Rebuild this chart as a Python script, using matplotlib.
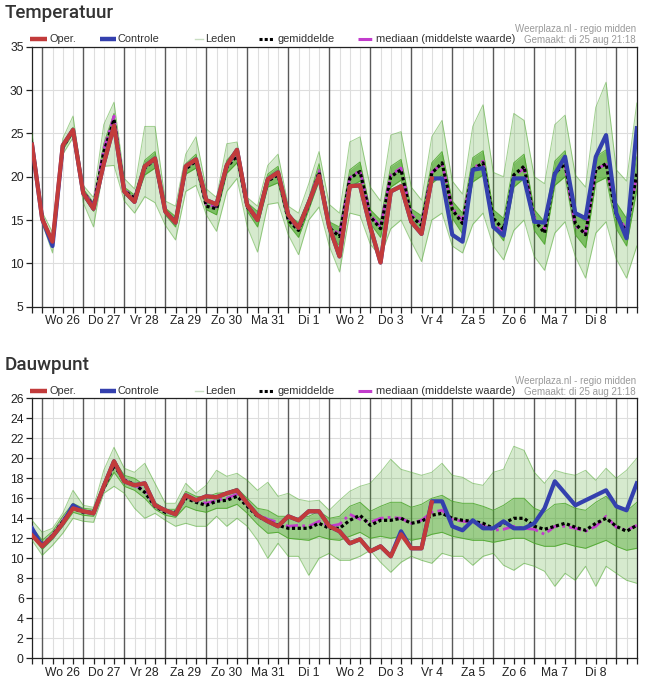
import numpy as np
import pandas as pd
import matplotlib
matplotlib.use("Agg")
import matplotlib.pyplot as plt
import matplotlib.dates as mdates
from matplotlib.lines import Line2D

plt.rcParams.update({"font.family": ["Liberation Sans", "DejaVu Sans"],
                     "font.size": 8.5})

# 6-hourly steps, tue 25 aug 18:00 .. wed 9 sep 12:00
times = pd.date_range("2020-08-25 18:00", periods=60, freq="6h")
day_labels = ["Wo 26", "Do 27", "Vr 28", "Za 29", "Zo 30", "Ma 31", "Di 1",
              "Wo 2", "Do 3", "Vr 4", "Za 5", "Zo 6", "Ma 7", "Di 8"]
NAN = np.nan

# ---- Temperatuur -------------------------------------------------------
t_oper = [23.7, 15.1, 12.5, 23.6, 25.4, 18.1, 16.3, 21.5, 25.9, 18.3,
          17.1, 21.2, 22.1, 16.0, 14.7, 21.2, 22.0, 17.3, 16.8, 21.3,
          23.1, 16.7, 15.0, 19.7, 20.5, 15.6, 14.1, 17.0, 20.1, 14.2,
          10.8, 18.9, 19.0, 14.2, 10.1, 18.3, 18.9, 14.8, 13.4, 19.8] + [NAN] * 20
t_ctrl = [23.7, 15.1, 12.0, 23.6, 25.4, 18.1, 16.3, 21.5, 25.9, 18.3,
          17.1, 21.2, 22.1, 16.0, 14.7, 21.2, 22.0, 17.3, 16.8, 21.3,
          23.1, 16.7, 15.0, 19.7, 20.5, 15.6, 14.1, 17.0, 20.1, 14.2,
          10.8, 18.9, 19.0, 14.2, 10.1, 18.3, 18.9, 14.8, 13.4, 19.8,
          19.8, 13.3, 12.5, 20.8, 21.0, 14.2, 13.2, 19.8, 19.8, 14.8,
          14.7, 20.3, 22.3, 15.8, 15.2, 22.3, 24.8, 15.8, 12.9, 25.6]
t_mean = [23.7, 15.2, 12.4, 23.4, 25.3, 18.2, 16.6, 22.8, 26.6, 18.4,
          17.5, 21.0, 22.0, 16.0, 14.8, 20.9, 21.8, 16.6, 16.3, 21.1,
          22.4, 16.5, 15.1, 19.5, 20.2, 15.0, 13.8, 16.8, 20.5, 14.1,
          13.1, 19.8, 20.6, 15.4, 14.0, 20.0, 20.8, 15.4, 14.4, 20.4,
          21.6, 16.2, 14.6, 20.8, 21.6, 15.2, 13.9, 20.2, 21.2, 15.0,
          13.5, 20.4, 21.5, 14.6, 13.3, 20.8, 21.5, 15.5, 13.6, 20.4]
t_median = [23.7, 15.3, 12.3, 23.5, 25.3, 18.3, 16.7, 23.2, 27.0, 18.5,
            17.6, 21.1, 22.1, 16.0, 14.8, 21.0, 22.0, 16.8, 16.5, 21.4,
            22.6, 16.5, 15.3, 19.8, 20.4, 15.2, 14.0, 17.0, 20.7, 14.3,
            13.3, 19.9, 20.7, 15.6, 14.2, 20.2, 21.0, 15.6, 14.6, 20.5,
            21.5, 16.4, 14.9, 20.9, 21.8, 14.5, 13.6, 20.0, 21.0, 15.3,
            14.0, 20.6, 21.3, 14.3, 13.5, 20.9, 21.4, 15.8, 13.8, 20.2]
# ensemble members: outer envelope and dense core, read per time step
t_min = [23.4, 14.6, 11.2, 22.6, 24.5, 17.0, 14.2, 21.2, 21.3, 17.2,
         15.8, 17.7, 17.0, 14.4, 12.7, 18.3, 19.0, 15.6, 13.7, 18.3,
         19.8, 14.2, 11.3, 16.8, 17.0, 13.3, 11.0, 15.0, 16.5, 12.0,
         9.0, 15.8, 15.5, 12.2, 10.8, 14.0, 15.0, 12.5, 10.2, 15.0,
         15.8, 12.0, 11.2, 14.5, 15.8, 12.0, 10.4, 13.8, 15.0, 10.8,
         9.2, 13.5, 14.8, 10.8, 8.3, 13.5, 14.8, 10.5, 8.3, 12.0]
t_max = [25.0, 15.9, 13.6, 24.4, 27.0, 19.0, 17.6, 26.0, 28.6, 19.8,
         18.6, 25.8, 25.8, 17.2, 16.6, 22.6, 24.6, 18.6, 17.6, 23.8,
         24.0, 17.6, 16.6, 21.3, 22.6, 16.6, 15.8, 19.2, 22.9, 16.8,
         15.8, 24.0, 24.6, 18.8, 17.2, 24.8, 25.2, 18.8, 17.3, 24.6,
         26.5, 19.5, 18.0, 25.8, 28.3, 20.5, 20.0, 27.3, 26.5, 20.0,
         19.2, 26.0, 27.1, 20.2, 18.8, 28.0, 30.9, 20.8, 19.5, 28.5]
t_lo = [23.5, 15.0, 12.0, 23.1, 25.0, 17.7, 16.0, 22.0, 25.8, 18.0,
        17.0, 20.2, 21.0, 15.6, 14.2, 20.3, 21.0, 16.2, 15.6, 20.4,
        21.6, 16.0, 14.2, 18.8, 19.3, 14.5, 13.0, 16.2, 19.5, 13.5,
        12.0, 18.8, 19.5, 14.6, 13.0, 18.8, 19.6, 14.6, 13.3, 19.2,
        20.2, 15.2, 13.4, 19.4, 20.2, 14.2, 12.6, 18.8, 19.8, 13.8,
        12.2, 19.0, 20.0, 13.3, 11.8, 19.3, 19.9, 14.0, 12.0, 18.5]
t_hi = [23.9, 15.4, 12.8, 23.8, 25.7, 18.6, 17.0, 23.8, 27.3, 18.8,
        17.9, 21.9, 22.9, 16.4, 15.4, 21.5, 22.6, 17.1, 17.0, 21.9,
        23.2, 17.0, 16.0, 20.3, 21.2, 15.6, 14.7, 17.5, 21.5, 14.8,
        14.2, 20.8, 21.7, 16.2, 15.0, 21.2, 22.0, 16.3, 15.5, 21.6,
        22.9, 17.2, 15.8, 22.2, 23.0, 16.2, 15.2, 21.6, 22.6, 16.2,
        14.8, 21.8, 23.0, 15.9, 14.8, 22.3, 23.1, 17.0, 15.2, 22.3]

# ---- Dauwpunt ----------------------------------------------------------
d_oper = [12.3, 11.2, 12.2, 13.5, 15.0, 14.7, 14.5, 17.2, 19.7, 17.7,
          17.3, 17.5, 15.3, 14.8, 14.4, 16.3, 15.8, 16.2, 16.1, 16.5,
          16.8, 15.5, 14.3, 13.7, 13.2, 14.2, 13.8, 14.7, 14.7, 13.2,
          12.7, 11.5, 11.9, 10.7, 11.2, 10.2, 12.4, 11.0, 11.0, 15.6] + [NAN] * 20
d_ctrl = [13.0, 11.2, 12.2, 13.5, 15.3, 14.7, 14.5, 17.2, 19.7, 17.7,
          17.3, 17.5, 15.3, 14.8, 14.4, 16.3, 15.8, 16.2, 16.1, 16.5,
          16.8, 15.5, 14.3, 13.7, 13.2, 14.2, 13.8, 14.7, 14.7, 13.2,
          12.7, 11.5, 11.9, 10.7, 11.2, 10.2, 12.7, 11.0, 11.0, 15.7,
          15.7, 13.2, 12.8, 13.8, 13.0, 13.0, 13.7, 13.0, 13.0, 13.5,
          15.0, 17.7, 16.5, 15.3, 15.8, 16.3, 16.8, 15.2, 14.8, 17.5]
d_mean = [12.7, 11.3, 12.3, 13.7, 15.0, 14.6, 14.6, 17.0, 19.3, 17.8,
          17.4, 16.6, 15.2, 14.6, 14.6, 16.0, 15.6, 15.3, 15.7, 15.8,
          16.2, 15.2, 14.2, 13.7, 13.3, 13.0, 13.0, 13.0, 13.5, 13.0,
          13.0, 13.8, 14.3, 13.3, 13.8, 13.8, 14.0, 13.5, 13.7, 14.3,
          14.5, 14.0, 13.8, 13.7, 13.5, 13.0, 13.5, 14.0, 14.0, 13.2,
          12.9, 13.2, 13.5, 13.1, 12.8, 13.5, 14.0, 13.2, 12.7, 13.3]
d_median = [12.6, 11.4, 12.3, 13.8, 15.1, 14.7, 14.6, 17.2, 19.5, 17.9,
            17.3, 16.8, 15.3, 14.7, 14.5, 16.2, 15.8, 15.5, 15.8, 16.0,
            16.4, 15.4, 14.4, 13.9, 13.6, 13.2, 13.3, 13.2, 13.7, 13.2,
            13.4, 14.4, 13.9, 13.6, 14.0, 14.1, 14.0, 13.5, 13.8, 14.6,
            14.8, 13.9, 13.7, 13.6, 13.3, 12.8, 12.9, 13.2, 13.0, 12.9,
            12.4, 13.2, 13.2, 13.0, 12.7, 13.2, 14.2, 13.1, 12.8, 13.3]
d_min = [11.8, 10.3, 11.3, 12.5, 14.0, 13.7, 13.6, 16.5, 17.2, 16.5,
         15.0, 14.0, 14.5, 13.8, 13.2, 13.5, 13.2, 13.2, 14.2, 13.2,
         14.0, 13.2, 11.8, 10.0, 11.5, 10.2, 10.2, 8.3, 10.0, 10.5,
         9.8, 9.8, 10.2, 10.8, 9.6, 8.6, 9.6, 10.2, 9.8, 9.5,
         10.5, 10.2, 10.2, 9.3, 10.2, 10.5, 9.3, 8.8, 9.5, 9.2,
         8.7, 7.2, 8.5, 7.8, 9.2, 7.2, 9.2, 8.5, 7.8, 7.5]
d_max = [13.8, 12.6, 13.0, 14.5, 16.8, 15.3, 15.1, 18.8, 21.1, 19.0,
         18.6, 19.5, 17.5, 15.5, 15.5, 17.5, 16.5, 17.3, 18.8, 18.2,
         18.5, 17.8, 16.8, 17.6, 16.2, 16.5, 15.9, 15.7, 15.8, 14.8,
         15.8, 16.7, 17.2, 17.5, 18.6, 19.9, 18.9, 18.6, 18.3, 18.6,
         19.5, 18.3, 18.1, 17.5, 17.3, 18.6, 18.9, 21.2, 20.8, 18.6,
         17.5, 18.8, 18.5, 18.3, 18.8, 17.8, 19.0, 18.0, 18.8, 20.0]
d_lo = [12.2, 10.9, 11.9, 13.2, 14.6, 14.3, 14.2, 16.8, 18.6, 17.2,
        16.8, 16.0, 14.9, 14.3, 14.1, 15.2, 14.8, 14.6, 15.0, 15.0,
        15.4, 14.5, 13.4, 12.5, 12.6, 12.0, 11.9, 11.8, 12.2, 11.9,
        11.8, 12.2, 12.6, 12.0, 12.2, 12.0, 12.2, 11.8, 12.0, 12.4,
        12.6, 12.2, 12.0, 11.8, 11.8, 11.6, 11.8, 12.0, 12.0, 11.5,
        11.2, 11.2, 11.5, 11.2, 11.0, 11.4, 11.8, 11.2, 10.8, 11.0]
d_hi = [13.1, 11.8, 12.7, 14.2, 15.5, 15.0, 14.9, 17.6, 19.9, 18.3,
        18.0, 17.3, 15.6, 14.9, 14.9, 16.7, 16.2, 16.1, 16.5, 16.6,
        17.0, 16.0, 15.0, 14.8, 14.2, 14.2, 14.0, 14.2, 14.7, 14.0,
        14.2, 15.2, 15.6, 14.7, 15.2, 15.6, 15.6, 15.1, 15.4, 16.0,
        16.3, 15.7, 15.5, 15.5, 15.2, 14.8, 15.3, 16.0, 16.0, 15.0,
        14.6, 15.4, 15.5, 15.0, 14.8, 15.6, 16.2, 15.2, 14.7, 15.6]

RED, BLUE, GREEN, MAG = "#c23b3b", "#3440ae", "#45a323", "#c23ccc"
W, H = 649, 684


def fx(px):
    return px / W


def fy(py):
    return 1 - py / H


def legend_row(fig, y):
    # (sample start, sample end, text x, label, line kwargs) in pixels
    items = [(30, 47, 49, "Oper.", dict(color=RED, lw=3.2, solid_capstyle="butt")),
             (100, 116, 118, "Controle", dict(color=BLUE, lw=3.2, solid_capstyle="butt")),
             (195, 203, 205, "Leden", dict(color="#c9dec2", lw=1.0)),
             (259, 274, 278, "gemiddelde", dict(color="black", lw=2.2, ls=(0, (1, 0.7)))),
             (358, 373, 376, "mediaan (middelste waarde)",
              dict(color=MAG, lw=2.2, ls=(0, (4.5, 1.5, 1, 1.5))))]
    for x0, x1, tx, label, kw in items:
        fig.add_artist(Line2D([fx(x0), fx(x1)], [fy(y), fy(y)],
                              transform=fig.transFigure, **kw))
        fig.text(fx(tx), fy(y), label, va="center", ha="left",
                 fontsize=7.9, color="#333333")
    fig.text(fx(636), fy(y - 10), "Weerplaza.nl - regio midden", ha="right",
             va="center", fontsize=7, color="#9a9a9a")
    fig.text(fx(636), fy(y + 1), "Gemaakt: di 25 aug 21:18", ha="right",
             va="center", fontsize=7, color="#9a9a9a")


def panel(ax, oper, ctrl, mean, median, vmin, vmax, lo, hi, ylim, ystep, dense):
    x = mdates.date2num(times)
    ax.set_xlim(x[0], x[-1])
    ax.set_ylim(*ylim)
    for t, xv in zip(times, x):
        if t.hour == 0:
            ax.axvline(xv, color="#5a5a5a", lw=1.0, zorder=1)
        else:
            ax.axvline(xv, color="#dedede", lw=0.8, zorder=0)
    ax.set_yticks(np.arange(ylim[0], ylim[1] + 0.1, ystep))
    ax.yaxis.grid(True, color="#dedede", lw=0.8)
    ax.set_axisbelow(True)

    # ensemble members: light envelope, denser core
    ax.fill_between(x, vmin, vmax, color=GREEN, alpha=0.22, lw=0, zorder=2)
    ax.fill_between(x, lo, hi, color=GREEN, alpha=dense, lw=0, zorder=2)
    for s, a in ((vmin, 0.5), (vmax, 0.5), (lo, 0.8), (hi, 0.8)):
        ax.plot(x, s, color=GREEN, lw=0.7, alpha=a, zorder=3)

    ax.plot(x, median, color=MAG, lw=2.0, ls=(0, (4.5, 1.5, 1, 1.5)), zorder=4)
    ax.plot(x, mean, color="black", lw=2.3, ls=(0, (1, 0.8)), zorder=5)
    ax.plot(x, ctrl, color=BLUE, lw=3.0, zorder=6)
    ax.plot(x, oper, color=RED, lw=3.0, zorder=7)

    noons = [xv for t, xv in zip(times, x) if t.hour == 12][:len(day_labels)]
    ax.set_xticks(noons)
    ax.set_xticklabels(day_labels)
    ax.set_xticks(x, minor=True)
    ax.tick_params(axis="both", which="both", direction="out", length=4,
                   width=0.9, color="#222222", labelsize=8.7,
                   labelcolor="#222222", pad=2)
    for s in ax.spines.values():
        s.set_color("#222222")
        s.set_linewidth(0.9)


fig = plt.figure(figsize=(6.49, 6.84), dpi=100)
ax1 = fig.add_axes([fx(32), fy(306.7), fx(604.8), 260 / H])
ax2 = fig.add_axes([fx(32), fy(658.3), fx(604.8), 260 / H])

panel(ax1, t_oper, t_ctrl, t_mean, t_median, t_min, t_max, t_lo, t_hi,
      (5, 35), 5, 0.62)
panel(ax2, d_oper, d_ctrl, d_mean, d_median, d_min, d_max, d_lo, d_hi,
      (0, 26), 2, 0.4)

fig.text(fx(5), fy(18), "Temperatuur", fontsize=13.5, family="Roboto",
         weight="medium", color="#333333", va="baseline")
fig.text(fx(5), fy(369.5), "Dauwpunt", fontsize=13.5, family="Roboto",
         weight="medium", color="#333333", va="baseline")
legend_row(fig, 39)
legend_row(fig, 390.6)

fig.savefig("out.png", dpi=100)
